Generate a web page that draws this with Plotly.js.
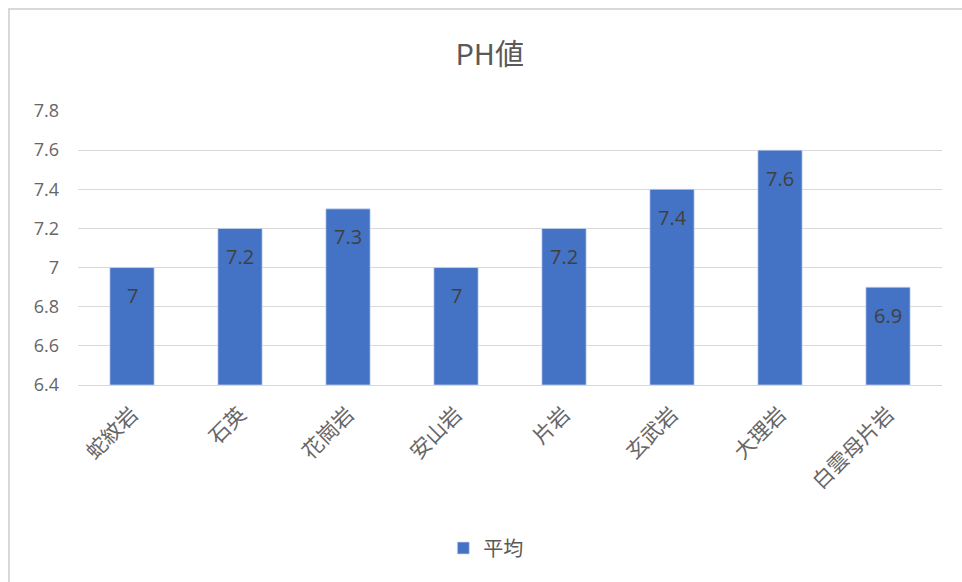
<!DOCTYPE html>
<html>
<head>
<meta charset="utf-8">
<script src="https://cdn.plot.ly/plotly-3.0.1.min.js"></script>
<style>
html,body{margin:0;padding:0;background:#fff;overflow:hidden;}
#wrap{position:relative;width:962px;height:582px;overflow:hidden;}
#chart{position:absolute;left:0;top:0;width:962px;height:582px;}
#frame{position:absolute;left:8px;top:8px;width:1000px;height:620px;border-left:2px solid #d9d9d9;border-top:2px solid #d9d9d9;pointer-events:none;}
</style>
</head>
<body>
<div id="wrap"><div id="chart"></div><div id="frame"></div></div>
<script>
const categories = ["蛇紋岩","石英","花崗岩","安山岩","片岩","玄武岩","大理岩","白雲母片岩"];
const values = [7, 7.2, 7.3, 7, 7.2, 7.4, 7.6, 6.9];
const seriesName = "平均";
const yBase = 6.4;
const yTicks = [6.4, 6.6, 6.8, 7, 7.2, 7.4, 7.6, 7.8];
const yTickText = ["6.4","6.6","6.8","7","7.2","7.4","7.6","7.8"];

const FONT = '"Noto Sans CJK JP", "Noto Sans", sans-serif';
const NUMFONT = '"Open Sans", "Noto Sans", sans-serif';

const trace = {
  type: 'bar',
  x: categories,
  y: values.map(v => v - yBase),
  name: seriesName,
  marker: {color: '#4472C4', line: {color: '#cfdcf2', width: 0.7}},
  hoverinfo: 'none'
};

const annotations = categories.map((c, i) => ({
  x: c, y: values[i] - yBase, xref: 'x', yref: 'y',
  text: String(values[i]),
  showarrow: false,
  yanchor: 'middle',
  yshift: -28,
  font: {family: NUMFONT, size: 20, color: '#404040'}
}));

const layout = {
  width: 962, height: 582,
  paper_bgcolor: '#ffffff', plot_bgcolor: '#ffffff',
  margin: {l: 78, r: 20, t: 111, b: 197},
  title: {text: 'PH値', x: 0.509, xref: 'container', xanchor: 'center', y: 0.905, yref: 'container', yanchor: 'middle',
          font: {family: FONT, size: 29, color: '#595959'}},
  bargap: 0.59,
  showlegend: true,
  legend: {orientation: 'h', x: 0.472, xanchor: 'center', y: -0.595, yanchor: 'middle',
           font: {family: FONT, size: 20, color: '#595959'}, itemwidth: 30},
  xaxis: {
    type: 'category',
    tickangle: -45,
    tickfont: {family: FONT, size: 21, color: '#666666'},
    showgrid: false, zeroline: false, showline: false,
    ticks: '', ticklabelstandoff: 12
  },
  yaxis: {
    range: [0, 1.4],
    tickmode: 'array',
    tickvals: yTicks.map(v => v - yBase),
    ticktext: yTickText,
    tickfont: {family: NUMFONT, size: 18, color: '#666666'},
    showgrid: true, gridcolor: '#d9d9d9', gridwidth: 1,
    zeroline: true, zerolinecolor: '#d9d9d9', zerolinewidth: 1,
    showline: false, ticks: '', ticklabelstandoff: 18
  },
  annotations: annotations
};
Plotly.newPlot('chart', [trace], layout, {displayModeBar: false, staticPlot: true});
</script>
</body>
</html>
